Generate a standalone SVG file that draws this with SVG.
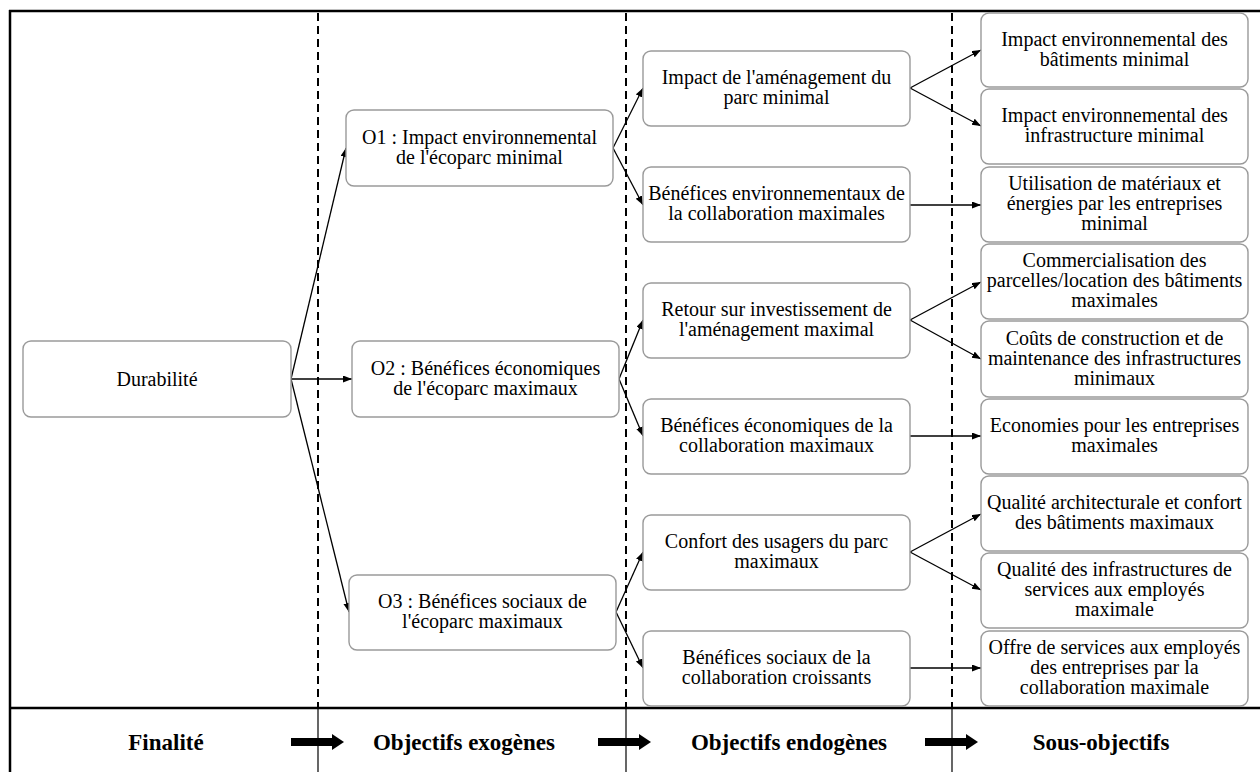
<svg xmlns="http://www.w3.org/2000/svg" width="1260" height="772" viewBox="0 0 1260 772">
<style>
.box{fill:#fff;stroke:#9a9a9a;stroke-width:1.4}
.t{font-family:'Liberation Serif','Times New Roman',serif;font-size:20px;fill:#000;text-anchor:middle}
.b{font-family:'Liberation Serif','Times New Roman',serif;font-size:23px;font-weight:bold;fill:#000;text-anchor:middle}
.dash{stroke:#000;stroke-width:2;stroke-dasharray:8,5;fill:none}
.thin{stroke:#000;stroke-width:1.2;fill:none}
.frame{stroke:#000;stroke-width:2.5;fill:none}
.c{stroke:#000;stroke-width:1.3;fill:none;marker-end:url(#ah)}
</style>
<defs>
<marker id="ah" markerUnits="userSpaceOnUse" markerWidth="10" markerHeight="8" refX="9" refY="3.5" orient="auto">
<path d="M0,0 L9,3.5 L0,7 z" fill="#000"/>
</marker>
<path id="bigArrow" d="M0,-4 L41,-4 L41,-8 L53,0 L41,8 L41,4 L0,4 z" fill="#000"/>
</defs>
<rect width="1260" height="772" fill="#fff"/>

<g id="frame">
<line class="frame" x1="9" y1="11" x2="1260" y2="11"/>
<line class="frame" x1="10" y1="10" x2="10" y2="772"/>
<line class="frame" x1="9" y1="708" x2="1260" y2="708"/>
<line class="dash" x1="318" y1="13" x2="318" y2="707"/>
<line class="dash" x1="626" y1="13" x2="626" y2="707"/>
<line class="dash" x1="952" y1="13" x2="952" y2="707"/>
<line class="thin" x1="318" y1="709" x2="318" y2="772"/>
<line class="thin" x1="626" y1="709" x2="626" y2="772"/>
<line class="thin" x1="952" y1="709" x2="952" y2="772"/>
</g>

<g id="connectors">
<path class="c" d="M291,379 L346,148"/>
<path class="c" d="M291,379 L352,379"/>
<path class="c" d="M291,379 L349,612"/>
<path class="c" d="M613,148 L643,88"/>
<path class="c" d="M613,148 L643,205"/>
<path class="c" d="M619,379 L643,320"/>
<path class="c" d="M619,379 L643,436"/>
<path class="c" d="M616,612 L643,552"/>
<path class="c" d="M616,612 L643,668"/>
<path class="c" d="M910,88 L981,50"/>
<path class="c" d="M910,88 L981,126"/>
<path class="c" d="M910,205 L981,205"/>
<path class="c" d="M910,320 L981,282"/>
<path class="c" d="M910,320 L981,359"/>
<path class="c" d="M910,436 L981,436"/>
<path class="c" d="M910,552 L981,514"/>
<path class="c" d="M910,552 L981,590"/>
<path class="c" d="M910,668 L981,668"/>
</g>

<g id="durabilite">
<rect class="box" x="23" y="341" width="268" height="76" rx="8"/>
<text class="t" x="157" y="386">Durabilité</text>
</g>

<g id="o1">
<rect class="box" x="346" y="110" width="267" height="76" rx="8"/>
<text class="t" x="479.5" y="144">O1 : Impact environnemental</text>
<text class="t" x="479.5" y="164">de l'écoparc minimal</text>
</g>
<g id="o2">
<rect class="box" x="352" y="341" width="267" height="76" rx="8"/>
<text class="t" x="485.5" y="375">O2 : Bénéfices économiques</text>
<text class="t" x="485.5" y="395">de l'écoparc maximaux</text>
</g>
<g id="o3">
<rect class="box" x="349" y="575" width="267" height="75" rx="8"/>
<text class="t" x="482.5" y="608">O3 : Bénéfices sociaux de</text>
<text class="t" x="482.5" y="628">l'écoparc maximaux</text>
</g>

<g id="e1">
<rect class="box" x="643" y="51" width="267" height="75" rx="8"/>
<text class="t" x="776.5" y="84">Impact de l'aménagement du</text>
<text class="t" x="776.5" y="104">parc minimal</text>
</g>
<g id="e2">
<rect class="box" x="643" y="167" width="267" height="75" rx="8"/>
<text class="t" x="776.5" y="200">Bénéfices environnementaux de</text>
<text class="t" x="776.5" y="220">la collaboration maximales</text>
</g>
<g id="e3">
<rect class="box" x="643" y="283" width="267" height="75" rx="8"/>
<text class="t" x="776.5" y="316">Retour sur investissement de</text>
<text class="t" x="776.5" y="336">l'aménagement maximal</text>
</g>
<g id="e4">
<rect class="box" x="643" y="399" width="267" height="75" rx="8"/>
<text class="t" x="776.5" y="432">Bénéfices économiques de la</text>
<text class="t" x="776.5" y="452">collaboration maximaux</text>
</g>
<g id="e5">
<rect class="box" x="643" y="515" width="267" height="75" rx="8"/>
<text class="t" x="776.5" y="548">Confort des usagers du parc</text>
<text class="t" x="776.5" y="568">maximaux</text>
</g>
<g id="e6">
<rect class="box" x="643" y="631" width="267" height="75" rx="8"/>
<text class="t" x="776.5" y="664">Bénéfices sociaux de la</text>
<text class="t" x="776.5" y="684">collaboration croissants</text>
</g>

<g id="s1">
<rect class="box" x="981" y="13" width="267" height="74" rx="8"/>
<text class="t" x="1114.5" y="46">Impact environnemental des</text>
<text class="t" x="1114.5" y="66">bâtiments minimal</text>
</g>
<g id="s2">
<rect class="box" x="981" y="89" width="267" height="75" rx="8"/>
<text class="t" x="1114.5" y="122">Impact environnemental des</text>
<text class="t" x="1114.5" y="142">infrastructure minimal</text>
</g>
<g id="s3">
<rect class="box" x="981" y="167" width="267" height="75" rx="8"/>
<text class="t" x="1114.5" y="190">Utilisation de matériaux et</text>
<text class="t" x="1114.5" y="210">énergies par les entreprises</text>
<text class="t" x="1114.5" y="230">minimal</text>
</g>
<g id="s4">
<rect class="box" x="981" y="244" width="267" height="75" rx="8"/>
<text class="t" x="1114.5" y="267">Commercialisation des</text>
<text class="t" x="1114.5" y="287">parcelles/location des bâtiments</text>
<text class="t" x="1114.5" y="307">maximales</text>
</g>
<g id="s5">
<rect class="box" x="981" y="321" width="267" height="76" rx="8"/>
<text class="t" x="1114.5" y="345">Coûts de construction et de</text>
<text class="t" x="1114.5" y="365">maintenance des infrastructures</text>
<text class="t" x="1114.5" y="385">minimaux</text>
</g>
<g id="s6">
<rect class="box" x="981" y="399" width="267" height="75" rx="8"/>
<text class="t" x="1114.5" y="432">Economies pour les entreprises</text>
<text class="t" x="1114.5" y="452">maximales</text>
</g>
<g id="s7">
<rect class="box" x="981" y="476" width="267" height="75" rx="8"/>
<text class="t" x="1114.5" y="509">Qualité architecturale et confort</text>
<text class="t" x="1114.5" y="529">des bâtiments maximaux</text>
</g>
<g id="s8">
<rect class="box" x="981" y="553" width="267" height="75" rx="8"/>
<text class="t" x="1114.5" y="576">Qualité des infrastructures de</text>
<text class="t" x="1114.5" y="596">services aux employés</text>
<text class="t" x="1114.5" y="616">maximale</text>
</g>
<g id="s9">
<rect class="box" x="981" y="631" width="267" height="75" rx="8"/>
<text class="t" x="1114.5" y="654">Offre de services aux employés</text>
<text class="t" x="1114.5" y="674">des entreprises par la</text>
<text class="t" x="1114.5" y="694">collaboration maximale</text>
</g>

<g id="legend">
<text class="b" x="166" y="750">Finalité</text>
<text class="b" x="464" y="750">Objectifs exogènes</text>
<text class="b" x="789" y="750">Objectifs endogènes</text>
<text class="b" x="1101" y="750">Sous-objectifs</text>
<use href="#bigArrow" x="291" y="742"/>
<use href="#bigArrow" x="598" y="742"/>
<use href="#bigArrow" x="925" y="742"/>
</g>
</svg>
